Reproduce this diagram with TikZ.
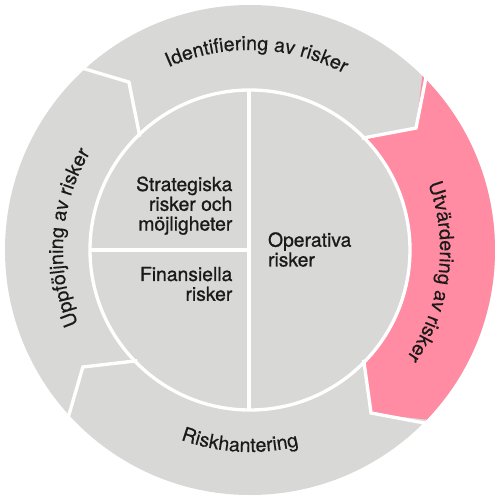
\documentclass[tikz,border=0pt]{standalone}
\usepackage{fontspec}
\setmainfont{TeX Gyre Heros}
\newfontfamily\innerfam[FakeBold=0.9]{TeX Gyre Heros}
\newfontfamily\ringfam[FakeBold=0.3]{TeX Gyre Heros}
\newcommand\ringfont{\ringfam\fontsize{11.2}{13}\selectfont}
\usetikzlibrary{decorations.text}
\definecolor{ringgray}{HTML}{D8D8D6}
\definecolor{ringpink}{HTML}{FF8CA2}
\definecolor{ink}{HTML}{1A1A1A}
\begin{document}
\begin{tikzpicture}[x=0.02cm,y=0.02cm,
  sep/.style={white,line width=1.9pt,line join=miter},
  innertext/.style={inner sep=0pt,text=ink,font=\innerfam\fontsize{11}{10.8}\selectfont},
  arctext/.style={decorate,decoration={text along path,text align=center,text color=ink,text={#1}}}]
\useasboundingbox (-250,-250) rectangle (250,250);
% ring and inner disk
\fill[ringgray] (0,0) circle[radius=245];
\fill[ringpink] (45.3:245) arc[start angle=45.3,end angle=-43.8,radius=245]
  -- (-53.4:204) -- (-44:160) arc[start angle=-44,end angle=45,radius=160]
  -- (36.3:206) -- cycle;
% separators
\draw[sep] (45.3:252) -- (36.3:206) -- (45:158);
\draw[sep] (133.3:252) -- (125.8:207) -- (134.2:158);
\draw[sep] (223.3:252) -- (215:204) -- (224.5:158);
\draw[sep] (316.2:252) -- (306.6:203) -- (316:158);
\draw[sep] (0,0) circle[radius=160];
\draw[sep] (-1,160) -- (-1,-160);
\draw[sep] (-160,0) -- (-1,0);
% ring labels
\path[arctext={|\ringfont|Identifiering av risker}] (128:200) arc[start angle=128,end angle=48,radius=200];
\path[arctext={|\ringfont|Utvärdering av risker}] (33:190) arc[start angle=33,end angle=-47,radius=190];
\path[arctext={|\ringfont|Riskhantering}] (227:202) arc[start angle=227,end angle=307,radius=202];
\path[arctext={|\ringfont|Uppföljning av risker}] (216:187) arc[start angle=216,end angle=136,radius=187];
% inner labels
\node[innertext,anchor=base east] (strat) at (-17.3,59)
  {\begin{tabular}[t]{@{}r@{}}Strategiska\\risker och\\möjligheter\end{tabular}};
\node[innertext,anchor=base east] (fin) at (-17.3,-31)
  {\begin{tabular}[t]{@{}r@{}}Finansiella\\risker\end{tabular}};
\node[innertext,anchor=base west] (oper) at (17.7,3.3)
  {\begin{tabular}[t]{@{}l@{}}Operativa\\risker\end{tabular}};
\end{tikzpicture}
\end{document}
